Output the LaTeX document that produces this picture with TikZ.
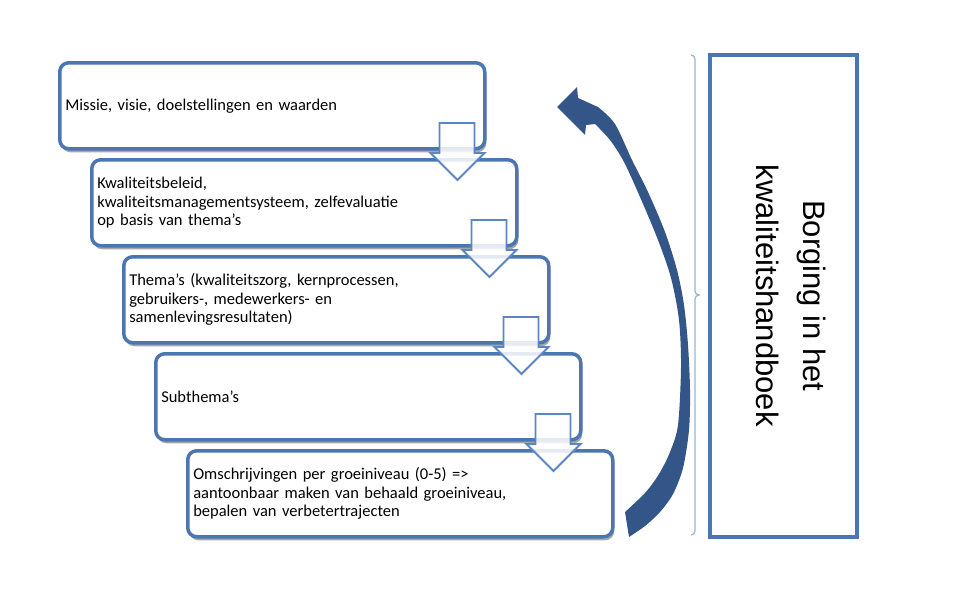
\documentclass[tikz,border=0pt]{standalone}
\usepackage{fontspec}
\setmainfont{Carlito}
\newfontfamily\arialfont{Liberation Sans}
\usetikzlibrary{shadows}
\definecolor{boxblue}{RGB}{74,118,178}
\definecolor{arrowblue}{RGB}{90,135,195}
\definecolor{curveblue}{RGB}{52,85,135}
\definecolor{bracketblue}{RGB}{150,180,215}
\tikzset{
  stepbox/.style={draw=boxblue, line width=3.5pt, rounded corners=9pt, fill=white,
    anchor=north west, text width=414pt, inner xsep=5.5pt, inner ysep=0pt,
    minimum height=86pt, align=left, font=\fontsize{16.5}{18.5}\selectfont,
    drop shadow={shadow xshift=1.5pt, shadow yshift=-3.5pt, opacity=0.35, fill=black}},
  hollowarrow/.style={draw=arrowblue, line width=1.8pt, fill=white, fill opacity=0.85, line join=miter},
  handbox/.style={draw=boxblue, line width=3.5pt, minimum width=147pt, minimum height=482pt, anchor=north west, inner sep=0pt},
  handtext/.style={rotate=-90, align=center, font=\arialfont\fontsize{31}{47}\selectfont}
}
\begin{document}
\begin{tikzpicture}[x=1pt,y=-1pt]
\fill[white] (0,0) rectangle (960,600);
\useasboundingbox (0,0) rectangle (960,600);

\node[stepbox] (b1) at (58,61) {Missie, visie, doelstellingen en waarden};
\node[stepbox] (b2) at (90,158) {Kwaliteitsbeleid,\\ kwaliteitsmanagementsysteem, zelfevaluatie\\ op basis van thema's};
\node[stepbox] (b3) at (122,255) {Thema's (kwaliteitszorg, kernprocessen,\\ gebruikers-, medewerkers- en\\ samenlevingsresultaten)};
\node[stepbox] (b4) at (154,352) {Subthema's};
\node[stepbox] (b5) at (186,449) {Omschrijvingen per groeiniveau (0-5) =>\\ aantoonbaar maken van behaald groeiniveau,\\ bepalen van verbetertrajecten};

\foreach \a in {b1,b2,b3,b4} {
  \draw[hollowarrow] ([shift={(-47,62)}]\a.north east) -- ([shift={(-12,62)}]\a.north east)
    -- ([shift={(-12,92)}]\a.north east) -- ([shift={(-2,92)}]\a.north east)
    -- ([shift={(-29,119)}]\a.north east) -- ([shift={(-56,92)}]\a.north east)
    -- ([shift={(-47,92)}]\a.north east) -- cycle;
}

% curved return arrow
\fill[curveblue] plot[smooth, tension=0.5] coordinates {(629,537) (645,526) (660,512) (673,494) (683,468) (689,430) (690,390) (688,345) (684,305) (677,270) (665,232) (648,192) (632,160) (615,124) (598,107)}
  -- (578,98) -- (577,87) -- (557,107) -- (585,135) -- (586,125)
  -- plot[smooth, tension=0.5] coordinates {(595,124) (610,140) (624,162) (640,197) (658,240) (671,278) (679,320) (681,367) (678,425) (670,452) (659,474) (645,493) (625,512)}
  -- cycle;

% bracket
\draw[bracketblue, line width=1.2pt] (691,55) to[out=0,in=90] (695,59) -- (695,291)
  to[out=-90,in=180] (699,295) to[out=180,in=90] (695,299) -- (695,531)
  to[out=-90,in=0] (691,535);

\node[handbox] (hb) at (708,53) {};
\node[handtext] (ht) at ([xshift=8pt]hb.center) {Borging in het\\kwaliteitshandboek};
\end{tikzpicture}
\end{document}
